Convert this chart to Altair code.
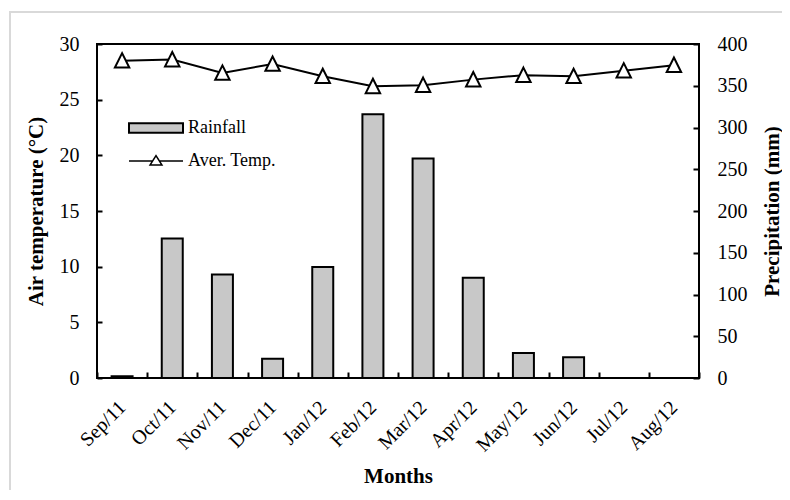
import altair as alt
import pandas as pd

months = ["Sep/11", "Oct/11", "Nov/11", "Dec/11", "Jan/12", "Feb/12",
          "Mar/12", "Apr/12", "May/12", "Jun/12", "Jul/12", "Aug/12"]
rain = [2, 167, 124, 23, 133, 316, 263, 120, 30, 25, 0, 0]
temp = [28.5, 28.6, 27.4, 28.2, 27.1, 26.2, 26.3, 26.8, 27.2, 27.1, 27.6, 28.1]
temp_ticks = [0, 5, 10, 15, 20, 25, 30]
rain_ticks = [0, 50, 100, 150, 200, 250, 300, 350, 400]

df = pd.DataFrame({"month": months, "rain": rain, "temp": temp,
                   "rs": "Rainfall", "ts": "Aver. Temp."})

FONT = "Liberation Serif"
RECT_PATH = "M-1,-0.18L1,-0.18L1,0.18L-1,0.18Z"
LINE_PATH = "M-1,0L-0.126,0M0.126,0L1,0M0,-0.2L0.22,0.15L-0.22,0.15Z"
TRI_PATH = "M0,-1L0.95,0.9L-0.95,0.9Z"

x = alt.X("month:N", sort=months,
          scale=alt.Scale(paddingInner=0, paddingOuter=0),
          axis=alt.Axis(title="Months", labelAngle=315, labelAlign="right",
                        labelBaseline="middle", labelPadding=26,
                        labelFontSize=20, tickBand="extent", tickSize=6,
                        offset=-6, domain=False, grid=False,
                        titleX=301, titleY=104, titleBaseline="middle",
                        titleAlign="center"))

bars = alt.Chart(df).transform_filter("datum.rain > 0").mark_bar(
    size=21, stroke="black", strokeWidth=2).encode(
    x=x,
    y=alt.Y("rain:Q", scale=alt.Scale(domain=[0, 400]),
            axis=alt.Axis(orient="right", title="Precipitation (mm)",
                          values=rain_ticks, tickSize=6, offset=-6,
                          domain=False, grid=False, labelPadding=18,
                          titleAngle=270, titleX=79, titleY=167,
                          titleBaseline="middle", titleAlign="center")),
    fill=alt.Fill("rs:N", scale=alt.Scale(range=["#c8c8c8"]),
                  legend=alt.Legend(title=None, orient="none", legendX=31,
                                    legendY=56, symbolType=RECT_PATH,
                                    symbolSize=2916, symbolStrokeColor="black",
                                    symbolStrokeWidth=2, labelOffset=4,
                                    padding=0)),
)

yt = alt.Y("temp:Q", scale=alt.Scale(domain=[0, 30]),
           axis=alt.Axis(orient="left", title="Air temperature (°C)",
                         values=temp_ticks, tickSize=5, offset=-5,
                         domain=False, grid=False, labelPadding=18,
                         titleAngle=270, titleX=-66, titleY=167,
                         titleBaseline="middle", titleAlign="center"))

line = alt.Chart(df).mark_line(strokeWidth=2).encode(
    x=x,
    y=yt,
    stroke=alt.Stroke("ts:N", scale=alt.Scale(range=["black"]),
                      legend=alt.Legend(title=None, orient="none", legendX=31,
                                        legendY=89, symbolType=LINE_PATH,
                                        symbolSize=2916, symbolStrokeWidth=1.5,
                                        symbolFillColor="white",
                                        labelOffset=4, padding=0)),
)

pts = alt.Chart(df).mark_point(shape=TRI_PATH, size=230, filled=True,
                               fill="white", stroke="black", strokeWidth=2,
                               opacity=1).encode(x=x, y=yt)

frame_data = alt.Data(values=[{"k": 1}])
frame_v = alt.Chart(frame_data).mark_rule(color="#d9d9d9", strokeWidth=2).encode(
    x=alt.value(-87), y=alt.value(-32), y2=alt.value(470))
frame_h = alt.Chart(frame_data).mark_rule(color="#d9d9d9", strokeWidth=2).encode(
    x=alt.value(-88), x2=alt.value(700), y=alt.value(-32))

chart = alt.layer(
    frame_v, frame_h, bars, alt.layer(line, pts)
).resolve_scale(y="independent").properties(
    width=602, height=334,
    background="white",
    autosize=alt.AutoSizeParams(type="none"),
    padding={"left": 89, "top": 36, "right": 83, "bottom": 112},
).configure_view(stroke="black", strokeWidth=2).configure_axis(
    labelFont=FONT, labelFontSize=20, labelColor="black",
    titleFont=FONT, titleFontSize=21, titleFontWeight="bold",
    titleColor="black", tickColor="black", tickWidth=2,
).configure_legend(
    labelFont=FONT, labelFontSize=18, labelColor="black",
)

chart.save("out.html", embed_options={"renderer": "svg", "actions": False})
